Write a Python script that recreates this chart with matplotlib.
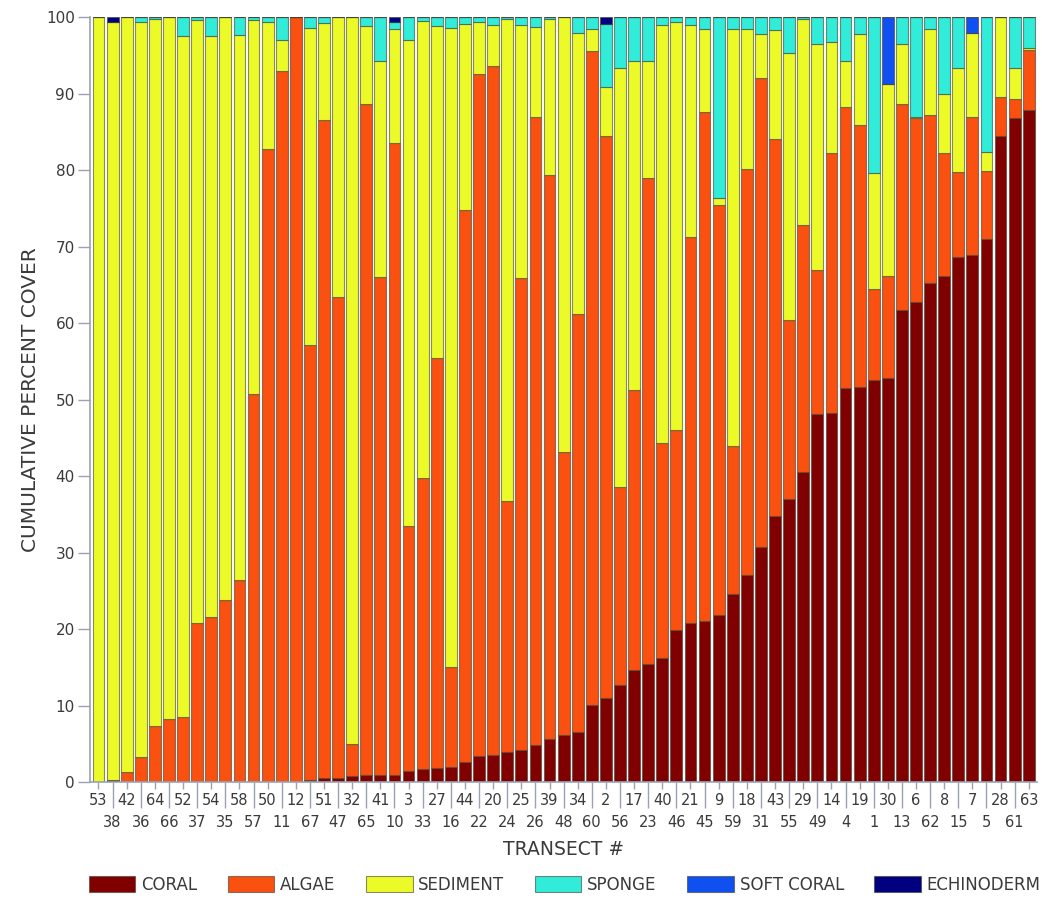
import matplotlib
matplotlib.use('Agg')
import matplotlib.pyplot as plt
import numpy as np

# transects, sorted by coral cover
transects = ['53', '38', '42', '36', '64', '66', '52', '37', '54', '35', '58', '57',
             '50', '11', '12', '67', '51', '47', '32', '65', '41', '10', '3', '33',
             '27', '16', '44', '22', '20', '24', '25', '26', '39', '48', '34', '60',
             '2', '56', '17', '23', '40', '46', '21', '45', '9', '59', '18', '31',
             '43', '55', '29', '49', '14', '4', '19', '1', '30', '13', '6', '62',
             '8', '15', '7', '5', '28', '61', '63']

coral = [0, 0.3, 0, 0, 0, 0, 0, 0, 0, 0, 0, 0,
         0, 0, 0, 0.3, 0.5, 0.6, 0.8, 0.9, 1.0, 1.0, 1.5, 1.7,
         1.8, 2.0, 2.6, 3.4, 3.5, 4.0, 4.2, 4.9, 5.6, 6.1, 6.6, 10.1,
         11.0, 12.7, 14.6, 15.5, 16.2, 19.9, 20.8, 21.1, 21.8, 24.6, 27.1, 30.8,
         34.8, 37.0, 40.6, 48.1, 48.3, 51.5, 51.7, 52.5, 52.8, 61.7, 62.7, 65.2,
         66.1, 68.6, 68.9, 71.0, 84.5, 86.8, 87.9]

algae = [0, 0, 1.3, 3.3, 7.3, 8.2, 8.5, 20.8, 21.6, 23.8, 26.4, 50.7,
         82.7, 92.9, 100, 56.8, 86.1, 62.8, 4.2, 87.8, 65.0, 82.5, 32.0, 38.1,
         53.7, 13.0, 72.2, 89.2, 90.1, 32.8, 61.7, 82.1, 73.7, 37.1, 54.6, 85.5,
         73.4, 25.9, 36.6, 63.5, 28.1, 26.1, 50.5, 66.5, 53.6, 19.4, 53.0, 61.2,
         49.2, 23.4, 32.2, 18.9, 33.9, 36.8, 34.2, 12.0, 13.4, 26.9, 24.1, 22.0,
         16.1, 11.1, 18.1, 8.9, 5.1, 2.5, 7.8]

sediment = [100, 99.0, 98.7, 96.0, 92.4, 91.8, 89.0, 78.8, 75.9, 76.2, 71.3, 48.9,
            16.6, 4.1, 0, 41.5, 12.6, 36.6, 95.0, 10.1, 28.2, 15.0, 63.5, 59.7,
            43.3, 83.6, 24.3, 6.7, 5.3, 63.0, 33.1, 11.7, 20.5, 56.8, 36.7, 2.9,
            6.5, 54.8, 43.0, 15.3, 54.7, 53.4, 27.7, 10.8, 1.0, 54.5, 18.3, 5.8,
            14.3, 34.9, 27.0, 29.5, 14.6, 5.9, 11.9, 15.1, 25.0, 7.9, 0.2, 11.2,
            7.7, 13.7, 10.9, 2.5, 10.4, 4.1, 0.3]

sponge = [0, 0, 0, 0.7, 0.3, 0, 2.5, 0.4, 2.5, 0, 2.3, 0.4,
          0.7, 3.0, 0, 1.4, 0.8, 0, 0, 1.2, 5.8, 0.9, 3.0, 0.5,
          1.2, 1.4, 0.9, 0.7, 1.1, 0.2, 1.0, 1.3, 0.2, 0, 2.1, 1.5,
          8.2, 6.6, 5.8, 5.7, 1.0, 0.6, 1.0, 1.6, 23.6, 1.5, 1.6, 2.2,
          1.7, 4.7, 0.2, 3.5, 3.2, 5.8, 2.2, 20.4, 0, 3.5, 13.0, 1.6,
          10.1, 6.6, 0, 17.6, 0, 6.6, 4.0]

soft_coral = [0] * 67
soft_coral[56] = 8.8
soft_coral[62] = 2.1

echinoderm = [0] * 67
echinoderm[1] = 0.7
echinoderm[21] = 0.6
echinoderm[36] = 0.9

series = [('CORAL', coral), ('ALGAE', algae), ('SEDIMENT', sediment),
          ('SPONGE', sponge), ('SOFT CORAL', soft_coral), ('ECHINODERM', echinoderm)]
colors = ['#800000', '#fa5010', '#ecfa28', '#30ecd8', '#1050f0', '#000080']

plt.rcParams['font.family'] = 'DejaVu Sans'
txt = '#3a3a3a'
axcol = '#9aa2b4'

fig = plt.figure(figsize=(10.42, 8.98), dpi=100)
ax = fig.add_axes([0.0864, 0.129, 0.909, 0.852])

x = np.arange(len(transects))
bottom = np.zeros(len(transects))
handles = []
for (name, vals), col in zip(series, colors):
    vals = np.array(vals, dtype=float)
    b = ax.bar(x, vals, 0.84, bottom=bottom, color=col,
               edgecolor=(0.25, 0.25, 0.2, 0.6), linewidth=0.8, label=name)
    handles.append(b)
    bottom += vals

ax.set_xlim(-0.6, len(transects) - 0.4)
ax.set_ylim(0, 100)
ax.set_yticks(np.arange(0, 101, 10))
ax.tick_params(axis='y', length=9, width=1, color=axcol, labelsize=11,
               labelcolor=txt, pad=2)

# alternate rows of transect labels: short ticks on top row, long ticks on bottom row
ax.set_xticks(x[::2])
ax.set_xticklabels(transects[::2])
ax.set_xticks(x[1::2], minor=True)
ax.set_xticklabels(transects[1::2], minor=True)
ax.tick_params(axis='x', which='major', length=5, width=1, color=axcol,
               labelsize=10.5, labelcolor=txt, pad=3)
ax.tick_params(axis='x', which='minor', length=19, width=1, color=axcol,
               labelsize=10.5, labelcolor=txt, pad=5)

for s in ['top', 'right']:
    ax.spines[s].set_visible(False)
for s in ['left', 'bottom']:
    ax.spines[s].set_color(axcol)
    ax.spines[s].set_linewidth(1.2)

ax.set_ylabel('CUMULATIVE PERCENT COVER', fontsize=14.5, color=txt, labelpad=4)
ax.set_xlabel('TRANSECT #', fontsize=13.5, color=txt, labelpad=7)

leg = fig.legend(handles=handles, loc='lower center', bbox_to_anchor=(0.542, -0.012),
                 ncol=6, frameon=False, fontsize=12, handlelength=2.8,
                 handleheight=1.15, handletextpad=0.35, columnspacing=1.82)
for t in leg.get_texts():
    t.set_color(txt)

fig.savefig('out.png', dpi=100)
